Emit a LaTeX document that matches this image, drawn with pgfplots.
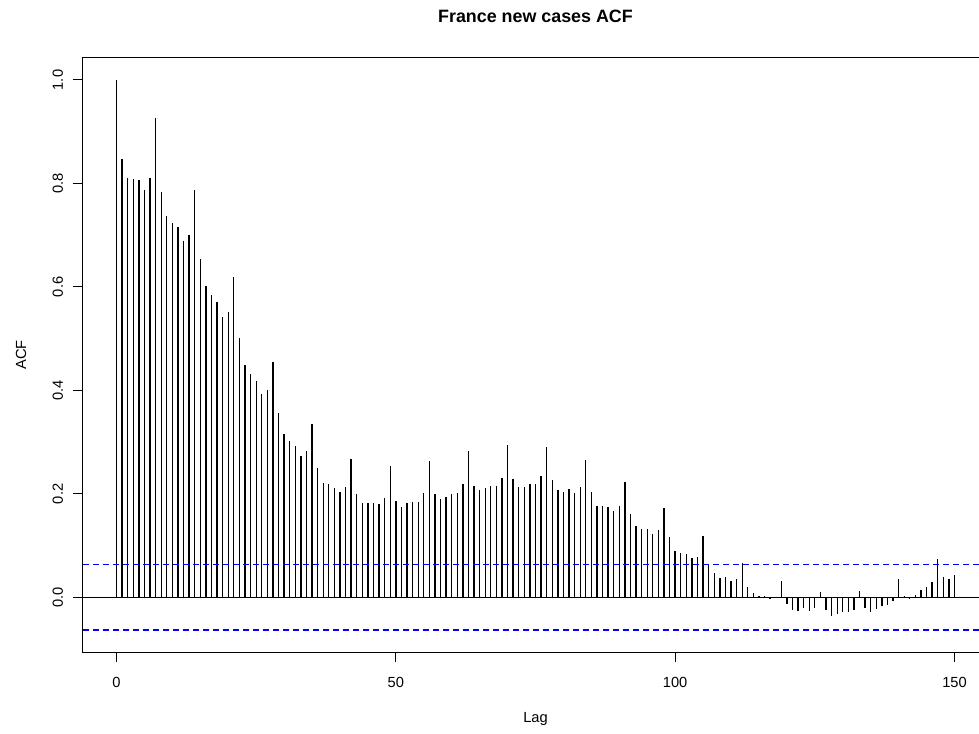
\documentclass[border=0pt]{standalone}
\usepackage{pgfplots}
\usepackage{pgfplotstable}
\pgfplotsset{compat=1.18}
\usepackage{fontspec}
\setmainfont{Liberation Sans}
\pgfplotstableread{
lag acf
0 1.0
1 0.848
2 0.811
3 0.809
4 0.806
5 0.787
6 0.811
7 0.927
8 0.784
9 0.738
10 0.723
11 0.716
12 0.689
13 0.701
14 0.787
15 0.654
16 0.602
17 0.585
18 0.571
19 0.541
20 0.551
21 0.620
22 0.501
23 0.450
24 0.432
25 0.418
26 0.393
27 0.401
28 0.455
29 0.357
30 0.316
31 0.302
32 0.293
33 0.273
34 0.282
35 0.335
36 0.251
37 0.221
38 0.219
39 0.211
40 0.204
41 0.214
42 0.268
43 0.200
44 0.182
45 0.182
46 0.182
47 0.180
48 0.192
49 0.254
50 0.187
51 0.174
52 0.182
53 0.185
54 0.185
55 0.201
56 0.263
57 0.200
58 0.190
59 0.194
60 0.200
61 0.202
62 0.219
63 0.282
64 0.216
65 0.207
66 0.211
67 0.216
68 0.216
69 0.231
70 0.295
71 0.228
72 0.214
73 0.214
74 0.219
75 0.219
76 0.234
77 0.290
78 0.226
79 0.207
80 0.204
81 0.209
82 0.201
83 0.214
84 0.266
85 0.204
86 0.177
87 0.177
88 0.174
89 0.167
90 0.177
91 0.224
92 0.162
93 0.138
94 0.133
95 0.133
96 0.123
97 0.130
98 0.172
99 0.116
100 0.089
101 0.086
102 0.084
103 0.077
104 0.079
105 0.118
106 0.064
107 0.047
108 0.037
109 0.040
110 0.032
111 0.035
112 0.067
113 0.020
114 0.008
115 0.002
116 0.003
117 -0.003
118 -0.001
119 0.032
120 -0.012
121 -0.024
122 -0.026
123 -0.021
124 -0.026
125 -0.021
126 0.010
127 -0.024
128 -0.035
129 -0.033
130 -0.028
131 -0.028
132 -0.024
133 0.012
134 -0.021
135 -0.028
136 -0.023
137 -0.017
138 -0.014
139 -0.007
140 0.035
141 0.003
142 -0.004
143 0.005
144 0.015
145 0.020
146 0.030
147 0.075
148 0.040
149 0.035
150 0.043
}\acfdata
\begin{document}
\begin{tikzpicture}
\path[use as bounding box, clip] (0,0) rectangle (734.25pt,549.75pt);
\begin{axis}[
  at={(62.25pt,60.75pt)}, anchor=south west,
  scale only axis, width=678.75pt, height=445.5pt,
  xmin=-6, xmax=156, ymin=-0.1055, ymax=1.0425,
  xtick={0,50,100,150},
  ytick={0,0.2,0.4,0.6,0.8,1.0},
  yticklabels={0.0,0.2,0.4,0.6,0.8,1.0},
  tick pos=left, tick align=outside,
  major tick length=7.5pt,
  tick style={black, line width=0.75pt},
  axis line style={black, line width=0.75pt},
  /pgf/number format/assume math mode=true,
  every tick label/.append style={font=\fontsize{11}{13}\selectfont},
  yticklabel style={rotate=90, anchor=south},
  xticklabel shift=8pt,
  yticklabel shift=4pt,
  title={France new cases ACF},
  title style={font=\fontsize{13.4}{15}\selectfont\bfseries, at={(axis description cs:0.5,1.057)}, anchor=center},
  xlabel={Lag},
  xlabel style={font=\fontsize{11}{13}\selectfont, at={(axis description cs:0.5,-0.1124)}, anchor=center},
  ylabel={ACF},
  ylabel style={font=\fontsize{11}{13}\selectfont, at={(axis description cs:-0.0685,0.5)}, anchor=center},
  clip=true,
]
\addplot[ycomb, black, line width=1pt, mark=none] table[x=lag, y=acf] {\acfdata};
\addplot[black, line width=0.75pt, mark=none] coordinates {(-6,0) (156,0)};
\addplot[color={rgb,1:red,0;green,0;blue,1}, line width=0.9pt, dash pattern=on 4.5pt off 3pt, mark=none] coordinates {(-6,0.063) (156,0.063)};
\addplot[color={rgb,1:red,0;green,0;blue,1}, line width=0.9pt, dash pattern=on 4.5pt off 3pt, mark=none] coordinates {(-6,-0.063) (156,-0.063)};
\end{axis}
\end{tikzpicture}
\end{document}
